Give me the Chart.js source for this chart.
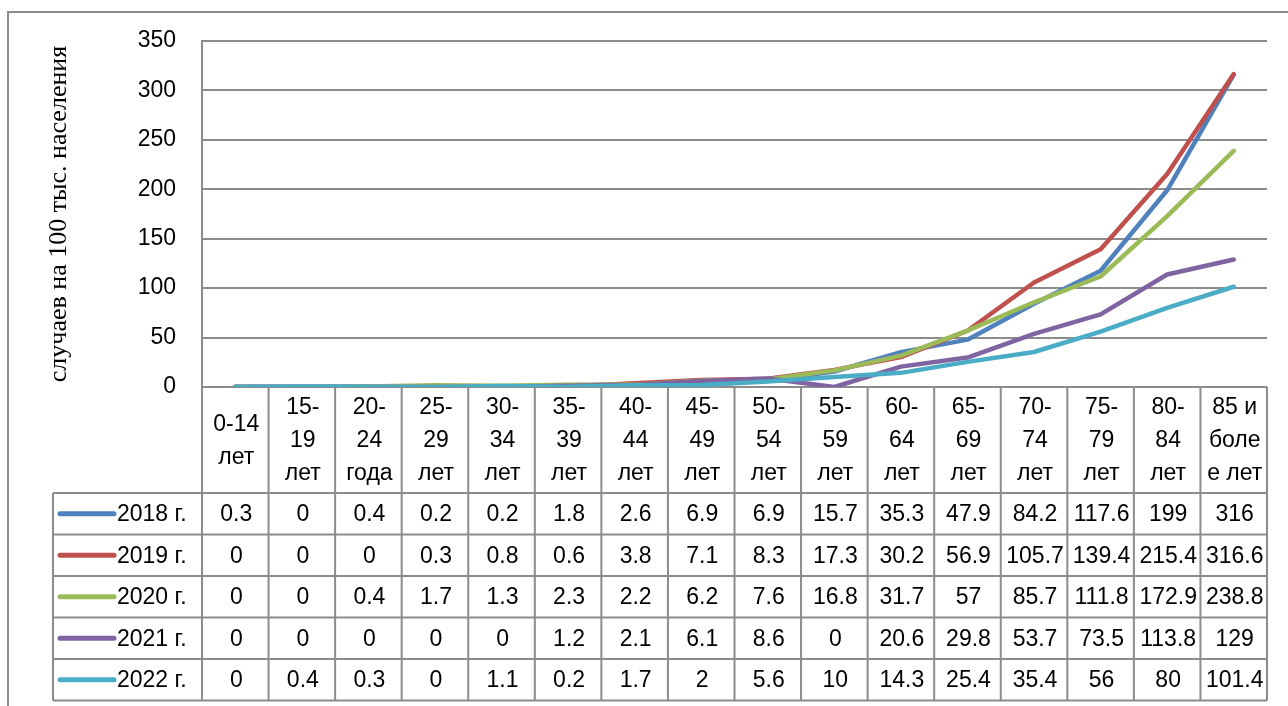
<!DOCTYPE html>
<html>
<head>
<meta charset="utf-8">
<script src="https://cdn.jsdelivr.net/npm/chart.js@4.4.1/dist/chart.umd.min.js"></script>
<style>
    html, body { margin: 0; padding: 0; background: #fff; }
    canvas { display: block; }
</style>
</head>
<body>
<canvas id="incidenceChart" width="1288" height="706"></canvas>
<script>
// Age groups (header cells, split into lines like the original)
const ageGroups = [
    ['0-14', 'лет'], ['15-', '19', 'лет'], ['20-', '24', 'года'], ['25-', '29', 'лет'],
    ['30-', '34', 'лет'], ['35-', '39', 'лет'], ['40-', '44', 'лет'], ['45-', '49', 'лет'],
    ['50-', '54', 'лет'], ['55-', '59', 'лет'], ['60-', '64', 'лет'], ['65-', '69', 'лет'],
    ['70-', '74', 'лет'], ['75-', '79', 'лет'], ['80-', '84', 'лет'], ['85 и', 'боле', 'е лет']
];

const seriesNames = ['2018 г.', '2019 г.', '2020 г.', '2021 г.', '2022 г.'];
const seriesColors = ['#4F81BD', '#C0504D', '#9BBB59', '#8064A2', '#4BACC6'];

const values2018 = [0.3, 0, 0.4, 0.2, 0.2, 1.8, 2.6, 6.9, 6.9, 15.7, 35.3, 47.9, 84.2, 117.6, 199, 316];
const values2019 = [0, 0, 0, 0.3, 0.8, 0.6, 3.8, 7.1, 8.3, 17.3, 30.2, 56.9, 105.7, 139.4, 215.4, 316.6];
const values2020 = [0, 0, 0.4, 1.7, 1.3, 2.3, 2.2, 6.2, 7.6, 16.8, 31.7, 57, 85.7, 111.8, 172.9, 238.8];
const values2021 = [0, 0, 0, 0, 0, 1.2, 2.1, 6.1, 8.6, 0, 20.6, 29.8, 53.7, 73.5, 113.8, 129];
const values2022 = [0, 0.4, 0.3, 0, 1.1, 0.2, 1.7, 2, 5.6, 10, 14.3, 25.4, 35.4, 56, 80, 101.4];

const yTicks = [0, 50, 100, 150, 200, 250, 300, 350];
const yTitle = 'случаев на 100 тыс. населения';

const allSeries = [values2018, values2019, values2020, values2021, values2022];

const GRID = '#8c8c8c';
const FONT = '"Liberation Sans", Arial, sans-serif';

/**
 * Excel-style data table under the plot (header cells + legend keys + values)
 */
const dataTablePlugin = {
    id: 'dataTable',
    afterDraw(chart) {
        const ctx = chart.ctx;
        const area = chart.chartArea;
        const xScale = chart.scales.x;
        const colW = (area.right - area.left) / ageGroups.length;
        const headTop = area.bottom;
        const headBottom = 493;
        const rowH = 41.5;
        const legendLeft = 53;
        const tableBottom = headBottom + rowH * seriesNames.length;

        ctx.save();
        ctx.strokeStyle = GRID;
        ctx.lineWidth = 2;

        // outer chart border (top + left)
        ctx.beginPath();
        ctx.moveTo(8, 706);
        ctx.lineTo(8, 12);
        ctx.lineTo(1288, 12);
        ctx.stroke();

        // column boundaries through header and body
        ctx.beginPath();
        for (let i = 0; i <= ageGroups.length; i++) {
            const xb = i < ageGroups.length ? xScale.getPixelForValue(i) - colW / 2 : area.right;
            ctx.moveTo(xb, headTop);
            ctx.lineTo(xb, tableBottom);
        }
        // legend column left edge
        ctx.moveTo(legendLeft, headBottom);
        ctx.lineTo(legendLeft, tableBottom);
        // horizontal row lines
        for (let r = 0; r <= seriesNames.length; r++) {
            const yb = headBottom + r * rowH;
            ctx.moveTo(legendLeft, yb);
            ctx.lineTo(area.right, yb);
        }
        ctx.stroke();

        // header text
        ctx.fillStyle = '#000';
        ctx.font = '23px ' + FONT;
        ctx.textAlign = 'center';
        ctx.textBaseline = 'middle';
        const lineH = 33;
        const headMid = (headTop + headBottom) / 2;
        ageGroups.forEach((lines, i) => {
            const cx = xScale.getPixelForValue(i);
            const y0 = headMid - (lines.length - 1) * lineH / 2;
            lines.forEach((t, k) => ctx.fillText(t, cx + 1, y0 + k * lineH + 1));
        });

        // body rows
        seriesNames.forEach((name, r) => {
            const cy = headBottom + r * rowH + rowH / 2;
            // legend key
            ctx.strokeStyle = seriesColors[r];
            ctx.lineWidth = 5;
            ctx.lineCap = 'round';
            ctx.beginPath();
            ctx.moveTo(60, cy);
            ctx.lineTo(114, cy);
            ctx.stroke();
            ctx.textAlign = 'left';
            ctx.fillText(name, 117, cy + 1);
            ctx.textAlign = 'center';
            allSeries[r].forEach((v, i) => {
                ctx.fillText(String(v), xScale.getPixelForValue(i) + 1, cy + 1);
            });
        });
        ctx.restore();
    }
};

const datasets = seriesNames.map((name, i) => ({
    label: name,
    data: allSeries[i],
    borderColor: seriesColors[i],
    backgroundColor: seriesColors[i],
    borderWidth: 4.5,
    borderCapStyle: 'round',
    borderJoinStyle: 'round',
    pointRadius: 0,
    tension: 0,
    order: seriesNames.length - i   // later years drawn on top, like Excel
}));

new Chart(document.getElementById('incidenceChart'), {
    type: 'line',
    data: { labels: ageGroups, datasets },
    options: {
        responsive: false,
        animation: false,
        layout: { padding: { left: 0, top: 41, right: 21, bottom: 319 } },
        plugins: {
            legend: { display: false },
            tooltip: { enabled: false }
        },
        scales: {
            x: {
                display: false,
                offset: true
            },
            y: {
                min: 0,
                max: 350,
                afterBuildTicks: (scale) => { scale.ticks = yTicks.map(v => ({ value: v })); },
                afterFit: (scale) => { scale.width = 202; },
                grid: { color: GRID, lineWidth: 2, drawTicks: false },
                border: { display: true, color: GRID, width: 2 },
                ticks: {
                    color: '#000',
                    padding: 26,
                    font: { family: FONT, size: 23 }
                },
                title: {
                    display: true,
                    text: yTitle,
                    color: '#000',
                    padding: { top: 44, bottom: 0 },
                    font: { family: '"Liberation Serif", "Times New Roman", serif', size: 26 }
                }
            }
        }
    },
    plugins: [dataTablePlugin]
});
</script>
</body>
</html>
